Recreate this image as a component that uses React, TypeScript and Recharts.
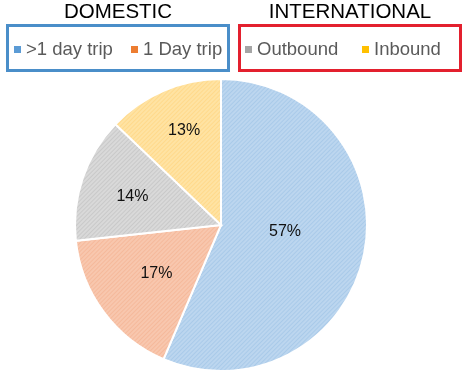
import { PieChart, Pie, Cell } from 'recharts';

const categories = ['>1 day trip', '1 Day trip', 'Outbound', 'Inbound'];
const shares = [57, 17, 14, 13];
const groups = ['DOMESTIC', 'INTERNATIONAL'];

const baseColors = ['#bcd6ef', '#f8c7ae', '#d9d9d9', '#ffe3a3'];
const lineColors = ['#9cc2e6', '#f4b08e', '#bfbfbf', '#ffd27a'];
const swatchColors = ['#5b9bd5', '#ed7d31', '#a5a5a5', '#ffc000'];

// label distance from centre as a fraction of the radius, and angle nudge (deg)
const labelRadius = [0.44, 0.55, 0.64, 0.7];
const labelShift = [7, 0, 0, -2];
// legend item x positions (swatch left)
const legendX = [14, 131, 245, 362];

const data = categories.map((name, i) => ({ name, value: shares[i] }));

const RADIAN = Math.PI / 180;

const renderLabel = (props: any) => {
    const { cx, cy, midAngle, outerRadius, value, index } = props;
    const r = outerRadius * labelRadius[index];
    const a = midAngle + labelShift[index];
    const x = cx + r * Math.cos(-a * RADIAN);
    const y = cy + r * Math.sin(-a * RADIAN);
    return (
        <text x={x} y={y} textAnchor="middle" dominantBaseline="central"
            fill="#111" fontSize={16} fontFamily="'Liberation Sans', Arial, sans-serif">
            {`${value}%`}
        </text>
    );
};

export default function App() {
    const font = "'Liberation Sans', Arial, sans-serif";
    return (
        <div style={{ position: 'fixed', left: 0, top: 0, width: 474, height: 382, background: '#fff', fontFamily: font }}>
            {/* Group titles */}
            <div style={{ position: 'absolute', left: 6, top: 0, width: 224, textAlign: 'center', fontSize: 20.5, color: '#000', lineHeight: '22px' }}>
                {groups[0]}
            </div>
            <div style={{ position: 'absolute', left: 238, top: 0, width: 224, textAlign: 'center', fontSize: 20.5, color: '#000', lineHeight: '22px' }}>
                {groups[1]}
            </div>

            {/* Legend boxes */}
            <div style={{ position: 'absolute', left: 6, top: 24, width: 218, height: 42, border: '3px solid #4a8ec9' }} />
            <div style={{ position: 'absolute', left: 238, top: 24, width: 218, height: 42, border: '3px solid #e3202e' }} />

            {categories.map((c, i) => (
                <div key={c} style={{
                    position: 'absolute', left: legendX[i], top: 37, height: 24, display: 'flex', alignItems: 'center',
                    fontSize: 18.5, color: '#5a5a5a', whiteSpace: 'nowrap'
                }}>
                    <span style={{ width: 7, height: 7, background: swatchColors[i], marginRight: 5, display: 'inline-block' }} />
                    {c}
                </div>
            ))}

            <div style={{ position: 'absolute', left: 0, top: 72 }}>
                <PieChart width={474} height={310}>
                    <defs>
                        {baseColors.map((c, i) => (
                            <pattern key={i} id={`hatch${i}`} width={3} height={3} patternUnits="userSpaceOnUse" patternTransform="rotate(45)">
                                <rect width={3} height={3} fill={c} />
                                <line x1={0} y1={0} x2={0} y2={3} stroke={lineColors[i]} strokeWidth={1.2} />
                            </pattern>
                        ))}
                    </defs>
                    <Pie
                        data={data}
                        dataKey="value"
                        cx={216}
                        cy={148}
                        outerRadius={146}
                        startAngle={90}
                        endAngle={-270}
                        stroke="#fff"
                        strokeWidth={2}
                        label={renderLabel}
                        labelLine={false}
                        isAnimationActive={false}
                    >
                        {data.map((d, i) => (
                            <Cell key={d.name} fill={`url(#hatch${i})`} />
                        ))}
                    </Pie>
                </PieChart>
            </div>
        </div>
    );
}
